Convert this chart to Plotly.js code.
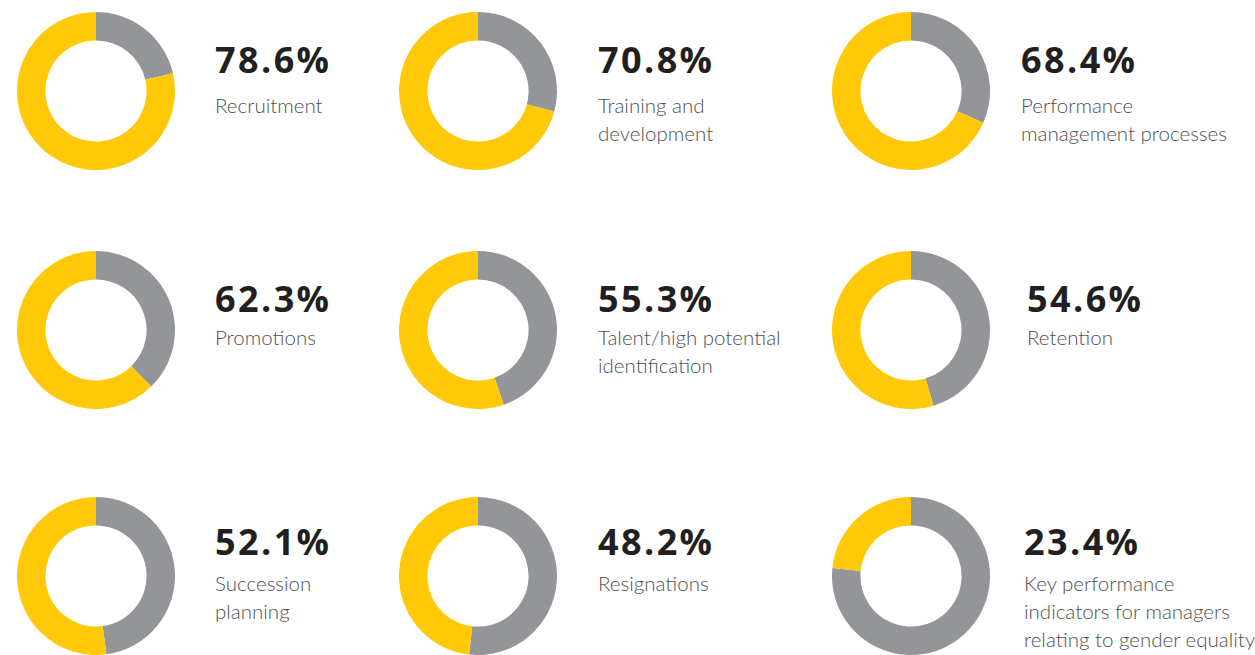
<!DOCTYPE html>
<html>
<head>
<meta charset="utf-8">
<script src="https://cdn.plot.ly/plotly-3.0.1.min.js"></script>
<style>
html, body { margin: 0; padding: 0; background: #ffffff; }
#chart { width: 1255px; height: 655px; }
text.annotation-text[style*="700"] { letter-spacing: 2.4px; }
</style>
</head>
<body>
<div id="chart"></div>
<script>
// ---- data ----
const categories = [
  "Recruitment",
  "Training and<br>development",
  "Performance<br>management processes",
  "Promotions",
  "Talent/high potential<br>identification",
  "Retention",
  "Succession<br>planning",
  "Resignations",
  "Key performance<br>indicators for managers<br>relating to gender equality"
];
const values = [78.6, 70.8, 68.4, 62.3, 55.3, 54.6, 52.1, 48.2, 23.4];

// ---- layout / style ----
const W = 1255, H = 655;
const colCenters = [96, 478, 911];
const rowCenters = [91, 330, 576];
const R = 79;
const textX = [213, 596, 1019, 213, 596, 1025, 213, 596, 1022];
const pctTop = [33, 33, 33, 272, 272, 272, 515, 515, 515];
const lblTop = [91, 91, 91, 323, 323, 323, 569, 569, 569];
const LINE_GAP = 28;
const YELLOW = "#FFC907";
const GRAY = "#939598";

const traces = [];
const annotations = [];
values.forEach((v, i) => {
  const cx = colCenters[i % 3], cy = rowCenters[Math.floor(i / 3)];
  traces.push({
    type: "pie",
    values: [100 - v, v],
    labels: ["other", "share"],
    sort: false,
    direction: "clockwise",
    rotation: 0,
    hole: 0.64,
    textinfo: "none",
    hoverinfo: "skip",
    showlegend: false,
    marker: { colors: [GRAY, YELLOW], line: { width: 0 } },
    domain: {
      x: [(cx - R) / W, (cx + R) / W],
      y: [1 - (cy + R) / H, 1 - (cy - R) / H]
    }
  });
  annotations.push({
    xref: "paper", yref: "paper",
    x: textX[i] / W, y: 1 - pctTop[i] / H,
    xanchor: "left", yanchor: "top",
    showarrow: false, align: "left",
    text: v.toFixed(1) + "%",
    font: { family: "Open Sans", size: 36, weight: 700, color: "#231F20" }
  });
  categories[i].split("<br>").forEach((line, k) => {
    annotations.push({
      xref: "paper", yref: "paper",
      x: textX[i] / W, y: 1 - (lblTop[i] + k * LINE_GAP) / H,
      xanchor: "left", yanchor: "top",
      showarrow: false, align: "left",
      text: line,
      font: { family: "Lato", size: 20.5, weight: 300, color: "#505052" }
    });
  });
});

Plotly.newPlot("chart", traces, {
  width: W, height: H,
  margin: { l: 0, r: 0, t: 0, b: 0 },
  paper_bgcolor: "#ffffff",
  plot_bgcolor: "#ffffff",
  annotations: annotations
}, { staticPlot: true });
</script>
</body>
</html>
